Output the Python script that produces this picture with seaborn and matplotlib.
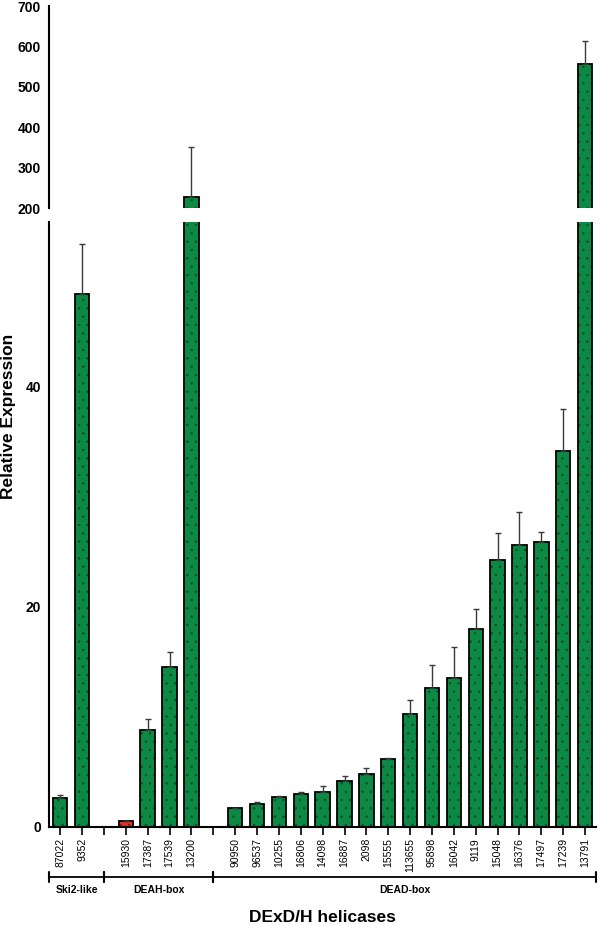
import matplotlib
matplotlib.use("Agg")
import matplotlib.pyplot as plt
import matplotlib.colors as mcolors
import seaborn as sns
import numpy as np
import pandas as pd

# ---------------- data ----------------
genes = ["87022", "9352",
         "15930", "17387", "17539", "13200",
         "90950", "96537", "10255", "16806", "14098", "16887", "2098", "15555",
         "113655", "95898", "16042", "9119", "15048", "16376", "17497", "17239", "13791"]
values = [2.6, 48.4,
          0.5, 8.8, 14.5, 228,
          1.7, 2.1, 2.7, 3.0, 3.2, 4.2, 4.85, 6.2,
          10.3, 12.6, 13.5, 18.0, 24.3, 25.6, 25.9, 34.2, 556]
errors = [0.3, 4.6,
          0.0, 1.0, 1.4, 122,
          0.05, 0.2, 0.08, 0.2, 0.5, 0.4, 0.55, 0.05,
          1.2, 2.1, 2.9, 1.8, 2.4, 3.0, 0.9, 3.8, 57]
groups = ["Ski2-like", "DEAH-box", "DEAD-box"]
group_members = [genes[0:2], genes[2:6], genes[6:]]
highlight = ["15930"]

GREEN = "#0c8a45"
RED = "#e8302c"

# order with empty gap slots between groups
gap1, gap2 = "_gap1", "_gap2"
order = group_members[0] + [gap1] + group_members[1] + [gap2] + group_members[2]
df = pd.DataFrame({"gene": genes, "value": values, "err": errors})
palette = {g: (RED if g in highlight else GREEN) for g in genes}

sns.set_style("white")
plt.rcParams["font.family"] = ["Liberation Sans", "DejaVu Sans"]
for k in ("text.color", "axes.labelcolor", "xtick.color", "ytick.color", "axes.edgecolor"):
    plt.rcParams[k] = "black"
plt.rcParams["hatch.linewidth"] = 0.5

fig = plt.figure(figsize=(6, 9.25), dpi=100)
W, H = 600.0, 925.0
left, right = 49.3 / W, 596 / W
ax_b = fig.add_axes([left, 1 - 827 / H, right - left, (827 - 221.7) / H])
ax_t = fig.add_axes([left, 1 - 208 / H, right - left, (208 - 6) / H], sharex=ax_b)

pos = [order.index(g) for g in genes]
for ax in (ax_b, ax_t):
    sns.barplot(data=df, x="gene", y="value", hue="gene", order=order,
                palette=palette, legend=False, width=0.66, saturation=1,
                edgecolor="black", linewidth=1.3, ax=ax, errorbar=None)
    for p in ax.patches:
        fc = np.array(mcolors.to_rgb(p.get_facecolor()))
        p.set_hatch("..")
        p._hatch_color = tuple(fc * 0.55) + (1.0,)
    ax.errorbar(pos, values, yerr=[np.zeros(len(values)), errors], fmt="none",
                ecolor="#3a3a3a", elinewidth=1.0, capsize=2.5, capthick=1.0, zorder=1)
    ax.set_xlim(-0.5, len(order) - 0.5)
    ax.set_xlabel("")
    ax.set_ylabel("")
    for s in ("top", "right"):
        ax.spines[s].set_visible(False)
    ax.spines["left"].set_linewidth(1.5)
    ax.spines["left"].set_color("black")

# bottom panel
ax_b.set_ylim(0, 55)
ax_b.set_yticks([0, 20, 40])
ax_b.set_yticks([55], minor=True)
ax_b.tick_params(axis="y", which="minor", direction="inout", length=7, width=1.5)
ax_b.tick_params(axis="y", which="major", direction="out", length=5, width=1.5,
                 labelsize=10, pad=1)
ax_b.spines["bottom"].set_linewidth(1.5)
ax_b.spines["bottom"].set_color("black")
ax_b.set_xticks(range(len(order)))
ax_b.set_xticklabels(["" if g.startswith("_gap") else g for g in order],
                     rotation=90, fontsize=7.5)
ax_b.tick_params(axis="x", direction="out", length=6, width=1.2, pad=2, bottom=True)
for lab in ax_b.get_yticklabels():
    lab.set_fontweight("bold")

# top panel
ax_t.set_ylim(200, 700)
ax_t.set_yticks([200, 300, 400, 500, 600, 700])
ax_t.tick_params(axis="y", direction="out", length=5, width=1.5, labelsize=10, pad=1)
ax_t.spines["bottom"].set_visible(False)
ax_t.tick_params(axis="x", bottom=False, labelbottom=False)
for lab in ax_t.get_yticklabels():
    lab.set_fontweight("bold")

# group brackets
tr = ax_b.get_xaxis_transform()
yb = -0.0821
spans = [(-0.5, order.index(gap1)), (order.index(gap1), order.index(gap2)),
         (order.index(gap2), len(order) - 0.5)]
for name, (x0, x1) in zip(groups, spans):
    ax_b.plot([x0, x1], [yb, yb], color="black", lw=1.3, transform=tr, clip_on=False)
    for xe in (x0, x1):
        ax_b.plot([xe, xe], [yb - 0.008, yb + 0.008], color="black", lw=1.5,
                  transform=tr, clip_on=False)
    ax_b.text((x0 + x1) / 2, -0.1035, name, transform=tr, ha="center", va="center",
              fontsize=7.5, fontweight="bold")

fig.text(322.5 / W, 1 - 918 / H, "DExD/H helicases", ha="center", va="center",
         fontsize=12.5, fontweight="bold")
fig.text(9 / W, 1 - 416.5 / H, "Relative Expression", ha="center", va="center",
         rotation=90, fontsize=12.5, fontweight="bold")

fig.savefig("out.png", dpi=100)
